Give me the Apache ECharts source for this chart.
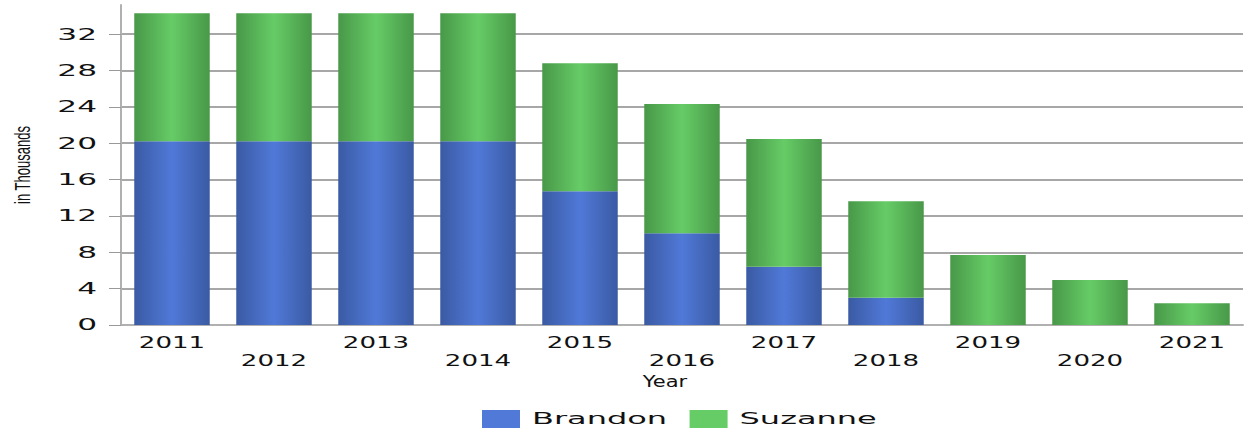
<!DOCTYPE html>
<html>
<head>
<meta charset="utf-8">
<script src="https://cdn.jsdelivr.net/npm/echarts@6/dist/echarts.min.js"></script>
<style>
  html, body { margin: 0; padding: 0; background: #fff; }
  #chart { width: 1249px; height: 432px; }
</style>
</head>
<body>
<div id="chart"></div>
<script>
var years = ['2011', '2012', '2013', '2014', '2015', '2016', '2017', '2018', '2019', '2020', '2021'];
var brandon = [20.2, 20.2, 20.2, 20.2, 14.7, 10.1, 6.4, 3.0, 0, 0, 0];
var suzanne = [14.1, 14.1, 14.1, 14.1, 14.1, 14.2, 14.05, 10.6, 7.7, 4.95, 2.4];
var yTicks = [0, 4, 8, 12, 16, 20, 24, 28, 32];

var labelFont = 'DejaVu Sans';

// horizontal gradient, dark at the edges, light in the middle
function barGradient(edge, mid) {
  return new echarts.graphic.LinearGradient(0, 0, 1, 0, [
    { offset: 0, color: edge },
    { offset: 0.5, color: mid },
    { offset: 1, color: edge }
  ]);
}

// the reference text is drawn wide: stretch each svg text around its anchor
function stretch(el, kx, ky) {
  if (el.getAttribute('data-wide')) return;
  el.setAttribute('data-wide', '1');
  var svg = el.ownerSVGElement;
  var x = parseFloat(el.getAttribute('x')) || 0;
  var y = parseFloat(el.getAttribute('y')) || 0;
  var list = el.transform.baseVal;
  var t1 = svg.createSVGTransform(); t1.setTranslate(x, y);
  var t2 = svg.createSVGTransform(); t2.setScale(kx, ky);
  var t3 = svg.createSVGTransform(); t3.setTranslate(-x, -y);
  list.appendItem(t1); list.appendItem(t2); list.appendItem(t3);
}
function widenTexts() {
  var texts = document.querySelectorAll('#chart text');
  for (var i = 0; i < texts.length; i++) {
    var s = texts[i].textContent.trim();
    if (/^\d{4}$/.test(s)) stretch(texts[i], 1.63, 1);
    else if (/^\d{1,2}$/.test(s)) stretch(texts[i], 1.95, 1);
    else if (s === 'Brandon' || s === 'Suzanne') stretch(texts[i], 2.0, 1);
    else if (s === 'Year') stretch(texts[i], 1.4, 1);
    else if (s === 'in Thousands') stretch(texts[i], 1, 1.7);
  }
}

var chart = echarts.init(document.getElementById('chart'), null, { renderer: 'svg' });
var option = {
  animation: false,
  grid: { left: 121, right: 6, top: 5, bottom: 107, outerBoundsMode: 'none' },
  legend: {
    left: 477,
    top: 405,
    itemWidth: 38,
    itemHeight: 18,
    itemGap: 90,
    icon: 'rect',
    textStyle: { fontFamily: labelFont, fontSize: 16, color: '#111', padding: [0, 0, 0, 7] },
    data: [
      { name: 'Brandon', itemStyle: { color: '#5079d8' } },
      { name: 'Suzanne', itemStyle: { color: '#66cc66' } }
    ]
  },
  xAxis: {
    type: 'category',
    data: years,
    name: 'Year',
    nameLocation: 'middle',
    nameGap: 39,
    nameTextStyle: { fontFamily: labelFont, fontSize: 15, color: '#111', padding: [0, 34, 0, 0] },
    axisLine: { lineStyle: { color: '#b0b0b0', width: 2 } },
    axisTick: { alignWithLabel: true, length: 5, lineStyle: { color: '#999' } },
    axisLabel: {
      interval: 0,
      margin: 8,
      fontFamily: labelFont,
      fontSize: 16,
      color: '#111',
      lineHeight: 18,
      formatter: function (value, index) {
        return index % 2 ? '\n' + value : value;
      }
    }
  },
  yAxis: {
    type: 'value',
    min: 0,
    max: 35.2,
    interval: 4,
    name: 'in Thousands',
    nameLocation: 'middle',
    nameGap: 92,
    nameTextStyle: { fontFamily: 'Liberation Sans', fontSize: 13, color: '#111' },
    axisLine: { show: true, lineStyle: { color: '#b0b0b0', width: 2 } },
    axisTick: { show: true, length: 12, lineStyle: { color: '#999' } },
    axisLabel: {
      margin: 24,
      fontFamily: labelFont,
      fontSize: 16,
      color: '#111',
      showMaxLabel: false,
      formatter: function (v) {
        return yTicks.indexOf(v) >= 0 ? String(v) : '';
      }
    },
    splitLine: { showMaxLine: false, lineStyle: { color: '#8a8a8a', width: 1.5 } }
  },
  series: [
    {
      name: 'Brandon',
      type: 'bar',
      stack: 'total',
      barWidth: '74%',
      data: brandon,
      itemStyle: { color: barGradient('#3a5aa3', '#5079d8') }
    },
    {
      name: 'Suzanne',
      type: 'bar',
      stack: 'total',
      barWidth: '74%',
      data: suzanne,
      itemStyle: { color: barGradient('#489848', '#66cc66') }
    }
  ]
};
chart.on('finished', widenTexts);
chart.setOption(option);
widenTexts();
setTimeout(widenTexts, 50);
</script>
</body>
</html>
